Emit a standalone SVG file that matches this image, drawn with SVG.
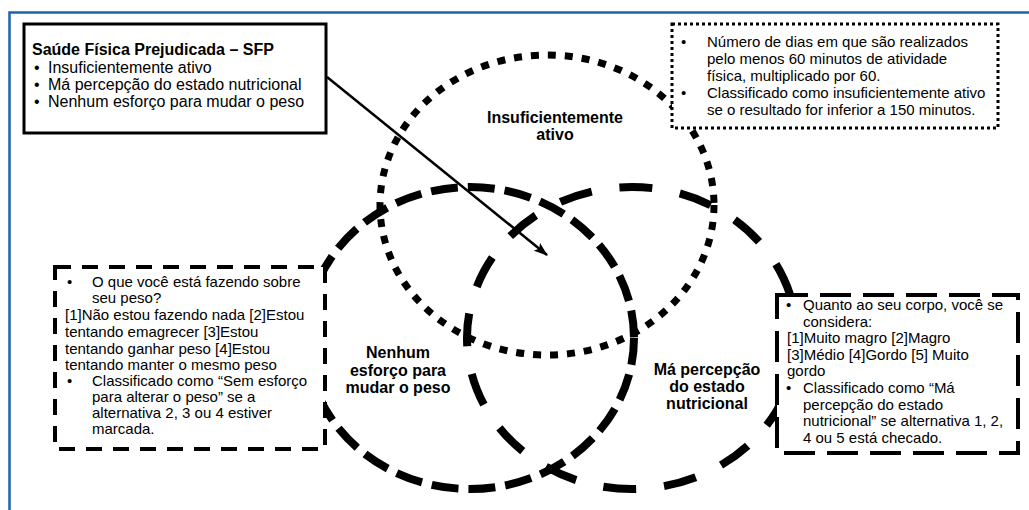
<svg xmlns="http://www.w3.org/2000/svg" width="1029" height="510" viewBox="0 0 1029 510">
<style>
text{font-family:"Liberation Sans",Arial,sans-serif;fill:#000}
.b{font-size:15px}
.h{font-size:16px;font-weight:bold}
.lbl{font-size:16px;font-weight:bold;text-anchor:middle}
.s16{font-size:16px}
</style>
<defs>
<marker id="ah" viewBox="0 0 14 10" refX="13" refY="5" markerWidth="14" markerHeight="10" markerUnits="userSpaceOnUse" orient="auto">
<path d="M0,0 L14,5 L0,10 L3,5 Z" fill="#000"/>
</marker>
</defs>
<rect x="0" y="0" width="1029" height="510" fill="#fff"/>
<rect id="frame" x="9.5" y="12.5" width="1040" height="520" fill="none" stroke="#1f63ad" stroke-width="2.5"/>
<g id="sets" fill="none" stroke="#000">
<ellipse id="set-ativo" cx="547" cy="205" rx="167" ry="150" stroke-width="7" stroke-dasharray="8 9"/>
<ellipse id="set-esforco" cx="470" cy="338" rx="164" ry="151" stroke-width="8" stroke-dasharray="27 10"/>
<ellipse id="set-percepcao" cx="632" cy="338" rx="165" ry="151" stroke-width="8" stroke-dasharray="33 28"/>
</g>
<g id="label-ativo">
<text class="lbl" x="555" y="123">Insuficientemente</text>
<text class="lbl" x="555" y="140">ativo</text>
</g>
<g id="label-esforco">
<text class="lbl" x="398" y="358">Nenhum</text>
<text class="lbl" x="398" y="376">esforço para</text>
<text class="lbl" x="398" y="393">mudar o peso</text>
</g>
<g id="label-percepcao">
<text class="lbl" x="707" y="375">Má percepção</text>
<text class="lbl" x="707" y="392">do estado</text>
<text class="lbl" x="707" y="409">nutricional</text>
</g>
<g id="sfp">
<rect x="24" y="24" width="302" height="109" fill="#fff" stroke="#000" stroke-width="3"/>
<text class="h" x="32" y="55">Saúde Física Prejudicada – SFP</text>
<text class="s16" x="34" y="73">•</text><text class="s16" x="48" y="73">Insuficientemente ativo</text>
<text class="s16" x="34" y="90">•</text><text class="s16" x="48" y="90">Má percepção do estado nutricional</text>
<text class="s16" x="34" y="107">•</text><text class="s16" x="48" y="107">Nenhum esforço para mudar o peso</text>
</g>
<g id="box-ativo">
<rect x="672" y="24" width="326" height="104" fill="#fff" stroke="#000" stroke-width="3" stroke-dasharray="3 3"/>
<text class="b" x="681" y="47">•</text><text class="b" x="707" y="47">Número de dias em que são realizados</text>
<text class="b" x="707" y="64">pelo menos 60 minutos de atividade</text>
<text class="b" x="707" y="81">física, multiplicado por 60.</text>
<text class="b" x="681" y="98">•</text><text class="b" x="707" y="98">Classificado como insuficientemente ativo</text>
<text class="b" x="707" y="115">se o resultado for inferior a 150 minutos.</text>
</g>
<g id="box-esforco">
<rect x="55" y="267" width="270" height="182" fill="#fff" stroke="#000" stroke-width="4" stroke-dasharray="16 11"/>
<text class="b" x="67" y="287">•</text><text class="b" x="92" y="287">O que você está fazendo sobre</text>
<text class="b" x="92" y="303">seu peso?</text>
<text class="b" x="65" y="320">[1]Não estou fazendo nada [2]Estou</text>
<text class="b" x="65" y="337">tentando emagrecer [3]Estou</text>
<text class="b" x="65" y="354">tentando ganhar peso [4]Estou</text>
<text class="b" x="65" y="370">tentando manter o mesmo peso</text>
<text class="b" x="67" y="386">•</text><text class="b" x="92" y="386">Classificado como “Sem esforço</text>
<text class="b" x="92" y="402">para alterar o peso” se a</text>
<text class="b" x="92" y="418">alternativa 2, 3 ou 4 estiver</text>
<text class="b" x="92" y="434">marcada.</text>
</g>
<g id="box-percepcao">
<rect x="777" y="295" width="241" height="158" fill="#fff" stroke="#000" stroke-width="4" stroke-dasharray="31 12"/>
<text class="b" x="786" y="310">•</text><text class="b" x="803" y="310">Quanto ao seu corpo, você se</text>
<text class="b" x="803" y="326.5">considera:</text>
<text class="b" x="787" y="343">[1]Muito magro [2]Magro</text>
<text class="b" x="787" y="359.5">[3]Médio [4]Gordo [5] Muito</text>
<text class="b" x="787" y="376">gordo</text>
<text class="b" x="786" y="393">•</text><text class="b" x="803" y="393">Classificado como “Má</text>
<text class="b" x="803" y="409.5">percepção do estado</text>
<text class="b" x="803" y="426">nutricional” se alternativa 1, 2,</text>
<text class="b" x="803" y="442.5">4 ou 5 está checado.</text>
</g>
<g id="connectors">
<line x1="327" y1="77" x2="547" y2="255" stroke="#000" stroke-width="2.5" marker-end="url(#ah)"/>
</g>
</svg>
